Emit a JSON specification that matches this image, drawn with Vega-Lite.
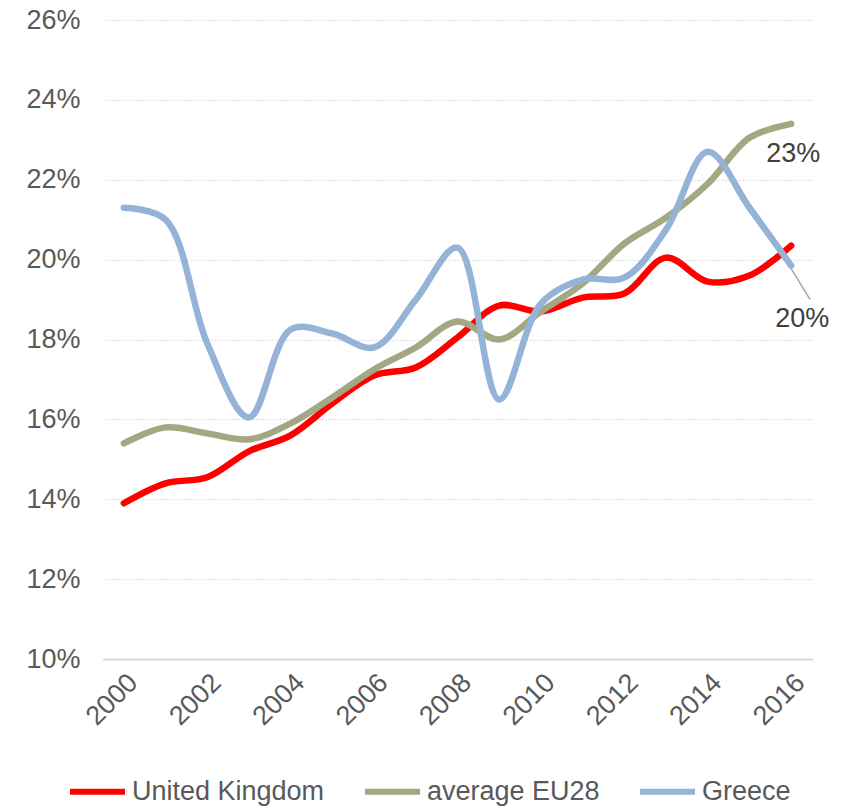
{
  "$schema": "https://vega.github.io/schema/vega-lite/v6.json",
  "width": 709,
  "height": 639,
  "autosize": {"type": "none"},
  "padding": {"left": 103, "top": 20, "right": 34, "bottom": 149},
  "background": "white",
  "config": {
    "view": {"stroke": null},
    "font": "Liberation Sans",
    "axis": {"labelFont": "Liberation Sans", "labelColor": "#595959", "labelFontSize": 27}
  },
  "data": {
    "values": [
      {"year": "2000", "series": "United Kingdom", "value": 0.139},
      {"year": "2001", "series": "United Kingdom", "value": 0.144},
      {"year": "2002", "series": "United Kingdom", "value": 0.1455},
      {"year": "2003", "series": "United Kingdom", "value": 0.152},
      {"year": "2004", "series": "United Kingdom", "value": 0.156},
      {"year": "2005", "series": "United Kingdom", "value": 0.164},
      {"year": "2006", "series": "United Kingdom", "value": 0.171},
      {"year": "2007", "series": "United Kingdom", "value": 0.173},
      {"year": "2008", "series": "United Kingdom", "value": 0.1805},
      {"year": "2009", "series": "United Kingdom", "value": 0.1885},
      {"year": "2010", "series": "United Kingdom", "value": 0.187},
      {"year": "2011", "series": "United Kingdom", "value": 0.1905},
      {"year": "2012", "series": "United Kingdom", "value": 0.1915},
      {"year": "2013", "series": "United Kingdom", "value": 0.2005},
      {"year": "2014", "series": "United Kingdom", "value": 0.1945},
      {"year": "2015", "series": "United Kingdom", "value": 0.196},
      {"year": "2016", "series": "United Kingdom", "value": 0.2035},
      {"year": "2000", "series": "average EU28", "value": 0.154},
      {"year": "2001", "series": "average EU28", "value": 0.158},
      {"year": "2002", "series": "average EU28", "value": 0.1565},
      {"year": "2003", "series": "average EU28", "value": 0.155},
      {"year": "2004", "series": "average EU28", "value": 0.159},
      {"year": "2005", "series": "average EU28", "value": 0.1655},
      {"year": "2006", "series": "average EU28", "value": 0.1725},
      {"year": "2007", "series": "average EU28", "value": 0.178},
      {"year": "2008", "series": "average EU28", "value": 0.1845},
      {"year": "2009", "series": "average EU28", "value": 0.18},
      {"year": "2010", "series": "average EU28", "value": 0.187},
      {"year": "2011", "series": "average EU28", "value": 0.194},
      {"year": "2012", "series": "average EU28", "value": 0.204},
      {"year": "2013", "series": "average EU28", "value": 0.2105},
      {"year": "2014", "series": "average EU28", "value": 0.219},
      {"year": "2015", "series": "average EU28", "value": 0.2305},
      {"year": "2016", "series": "average EU28", "value": 0.234},
      {"year": "2000", "series": "Greece", "value": 0.213},
      {"year": "2001", "series": "Greece", "value": 0.21},
      {"year": "2002", "series": "Greece", "value": 0.179},
      {"year": "2003", "series": "Greece", "value": 0.1605},
      {"year": "2004", "series": "Greece", "value": 0.1825},
      {"year": "2005", "series": "Greece", "value": 0.1815},
      {"year": "2006", "series": "Greece", "value": 0.178},
      {"year": "2007", "series": "Greece", "value": 0.19},
      {"year": "2008", "series": "Greece", "value": 0.203},
      {"year": "2009", "series": "Greece", "value": 0.165},
      {"year": "2010", "series": "Greece", "value": 0.189},
      {"year": "2011", "series": "Greece", "value": 0.195},
      {"year": "2012", "series": "Greece", "value": 0.1955},
      {"year": "2013", "series": "Greece", "value": 0.2075},
      {"year": "2014", "series": "Greece", "value": 0.227},
      {"year": "2015", "series": "Greece", "value": 0.213},
      {"year": "2016", "series": "Greece", "value": 0.1985}
    ]
  },
  "encoding": {
    "x": {
      "field": "year", "type": "ordinal",
      "scale": {"type": "point", "padding": 0.5},
      "axis": {
        "title": null, "labelAngle": -45, "ticks": false, "domain": true,
        "values": ["2000", "2002", "2004", "2006", "2008", "2010", "2012", "2014", "2016"],
        "domainColor": "#D9D9D9", "domainWidth": 2, "labelPadding": 10
      }
    },
    "y": {
      "field": "value", "type": "quantitative",
      "scale": {"domain": [0.1, 0.26], "nice": false, "zero": false},
      "axis": {
        "title": null, "format": ".0%", "values": [0.1, 0.12, 0.14, 0.16, 0.18, 0.2, 0.22, 0.24, 0.26],
        "domain": false, "ticks": false, "labelPadding": 23,
        "grid": true, "gridColor": "#D0D0D0", "gridDash": [1, 2], "gridWidth": 1.5
      }
    }
  },
  "layer": [
    {
      "mark": {"type": "line", "strokeWidth": 6.5, "interpolate": "catmull-rom", "strokeCap": "round"},
      "encoding": {
        "color": {
          "field": "series", "type": "nominal",
          "scale": {"domain": ["United Kingdom", "average EU28", "Greece"], "range": ["#FF0000", "#A3A882", "#95B3D7"]},
          "legend": {
            "title": null, "orient": "none", "direction": "horizontal", "legendX": -36, "legendY": 741,
            "symbolType": "stroke", "symbolSize": 3025, "symbolStrokeWidth": 6,
            "labelFontSize": 27, "labelColor": "#595959", "labelFont": "Liberation Sans",
            "labelOffset": 4, "columnPadding": 28, "labelLimit": 0
          }
        }
      }
    },
    {
      "transform": [{"filter": "datum.year == '2016' && datum.series == 'Greece'"}],
      "mark": {"type": "rule", "color": "#A6A6A6", "strokeWidth": 1.5, "x2Offset": 19, "yOffset": 3},
      "encoding": {
        "y2": {"datum": 0.19},
        "x2": {"field": "year"}
      }
    },
    {
      "transform": [{"filter": "datum.year == '2016' && datum.series == 'average EU28'"}],
      "mark": {"type": "text", "align": "left", "baseline": "middle", "dx": -25, "dy": 30, "fontSize": 27, "color": "#404040"},
      "encoding": {"text": {"field": "value", "format": ".0%"}}
    },
    {
      "transform": [{"filter": "datum.year == '2016' && datum.series == 'Greece'"}],
      "mark": {"type": "text", "align": "left", "baseline": "middle", "dx": -16, "dy": 53, "fontSize": 27, "color": "#404040"},
      "encoding": {"text": {"field": "value", "format": ".0%"}}
    }
  ]
}
